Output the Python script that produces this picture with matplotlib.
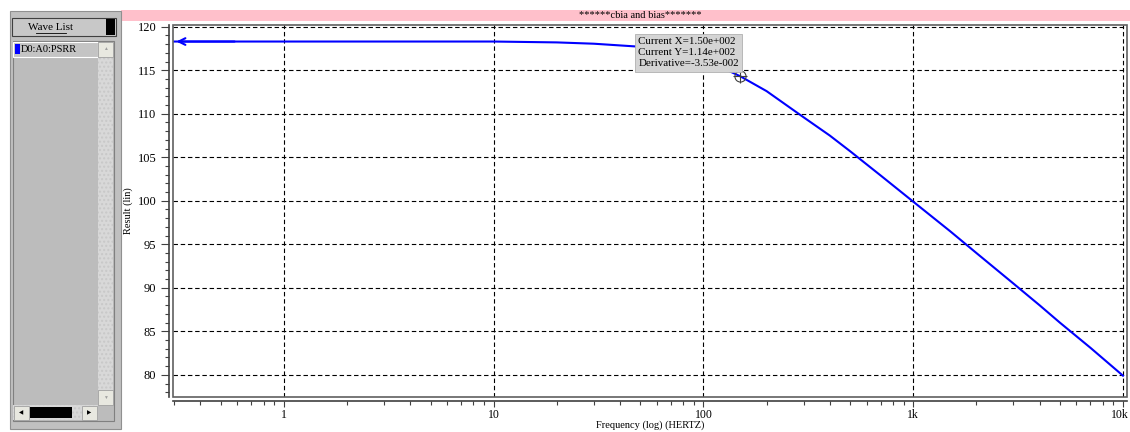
import numpy as np
import matplotlib.pyplot as plt
from matplotlib.patches import Rectangle
from matplotlib.ticker import LogLocator, MultipleLocator, FixedLocator, NullFormatter
import matplotlib.transforms as mtransforms

freq = [0.3, 1, 3, 10, 20, 30, 50, 70, 100, 150, 200, 300, 400, 500, 700, 1000,
        1500, 2000, 3000, 4000, 5000, 7000, 10000]
psrr = [118.3, 118.3, 118.3, 118.3, 118.2, 118.05, 117.7, 117.2, 116.3, 114.3, 112.6,
        109.6, 107.5, 105.7, 102.9, 99.9, 96.5, 94.0, 90.5, 88.0, 86.0, 83.1, 79.9]
xticks = [1, 10, 100, 1000, 10000]
xticklabels = ["1", "10", "100", "1k", "10k"]
yticks = [80, 85, 90, 95, 100, 105, 110, 115, 120]
cursor_x, cursor_y = 150, 114.3
cursor_text = ["Current X=1.50e+002", "Current Y=1.14e+002", "Derivative=-3.53e-002"]
title = "******cbia and bias*******"
wave_name = "D0:A0:PSRR"

W, H = 1130, 432
plt.rcParams['font.family'] = ['Liberation Serif', 'DejaVu Serif']
fig = plt.figure(figsize=(W / 100, H / 100), dpi=100)
fig.patch.set_facecolor("white")


def px(x, y, w, h):
    # pixel box (top-left origin) -> figure fraction
    return (x / W, 1 - (y + h) / H), w / W, h / H


def box(x, y, w, h, fc, ec="none", lw=0.0, hatch=None, z=1):
    xy, ww, hh = px(x, y, w, h)
    r = Rectangle(xy, ww, hh, transform=fig.transFigure, facecolor=fc, edgecolor=ec,
                  linewidth=lw, hatch=hatch, zorder=z)
    fig.add_artist(r)
    return r


def ftext(x, y, s, **kw):
    fig.text(x / W, 1 - y / H, s, **kw)


# title bar
box(121, 10, 1009, 11, "#ffc0cb")
ftext(640, 15.5, title, ha="center", va="center", fontsize=7.5)

# left wave list panel
box(10, 11, 111, 418, "#c0c0c0", ec="#909090", lw=0.8)
box(12, 18, 104, 18, "#c8c8c8", ec="#404040", lw=0.8, z=2)
box(106, 19, 9, 16, "black", z=3)
ftext(50, 27, "Wave List", ha="center", va="center", fontsize=8)
fig.add_artist(plt.Line2D([36 / W, 66 / W], [1 - 32.5 / H, 1 - 32.5 / H],
                          transform=fig.transFigure, color="black", lw=0.6))
box(13, 41, 101, 380, "#bcbcbc", ec="#808080", lw=0.8, z=2)
box(13, 42, 85, 15, "#c4c4c4", ec="white", lw=0.8, z=3)
box(15, 44, 5, 10, "#0000ff", z=4)
ftext(21, 49.5, wave_name, ha="left", va="center", fontsize=7.5, zorder=5)
# vertical scrollbar
box(98, 42, 15, 363, "#d8d8d8", hatch="....", ec="#c8c8c8", lw=0.0, z=3)
box(98, 42, 15, 15, "#e8e8e0", ec="#a0a0a0", lw=0.6, z=4)
ftext(105.5, 49, "\u25B2", ha="center", va="center", fontsize=3.5, color="#a0a0a0", zorder=5)
box(98, 390, 15, 15, "#e8e8e0", ec="#a0a0a0", lw=0.6, z=4)
ftext(105.5, 397.5, "\u25BC", ha="center", va="center", fontsize=3.5, color="#a0a0a0", zorder=5)
# horizontal scrollbar
box(13, 405, 85, 15, "#d8d8d8", hatch="....", ec="#c8c8c8", lw=0.0, z=3)
box(14, 406, 15, 14, "#e8e8e0", ec="#a0a0a0", lw=0.6, z=4)
ftext(21.5, 413, "\u25C0", ha="center", va="center", fontsize=4, color="black", zorder=5)
box(30, 407, 42, 11, "black", z=4)
box(82, 406, 15, 14, "#e8e8e0", ec="#a0a0a0", lw=0.6, z=4)
ftext(89.5, 413, "\u25B6", ha="center", va="center", fontsize=4, color="black", zorder=5)

# plot area
ax = fig.add_axes([173 / W, (H - 397) / H, (1127 - 173) / W, (397 - 25) / H])
ax.set_zorder(10)
ax.set_xscale("log")
ax.set_xlim(0.296, 10450)
ax.set_ylim(77.45, 120.2)

ax.plot(freq, psrr, color="#0000ff", lw=1.5, zorder=3)
ax.annotate("", xy=(0.298, psrr[0]), xytext=(0.6, psrr[0]),
            arrowprops=dict(arrowstyle="->", color="#0000ff", lw=1.5,
                            mutation_scale=12), zorder=4)

ax.xaxis.set_major_locator(FixedLocator(xticks))
ax.set_xticklabels(xticklabels)
ax.xaxis.set_minor_locator(LogLocator(base=10, subs=np.arange(2, 10)))
ax.xaxis.set_minor_formatter(NullFormatter())
ax.yaxis.set_major_locator(FixedLocator(yticks))
ax.yaxis.set_minor_locator(MultipleLocator(1))

ax.grid(True, which="major", color="black", linestyle=(0, (4, 2.5)), lw=0.8)
for s in ["left", "bottom"]:
    ax.spines[s].set_position(("outward", 3))
    ax.spines[s].set_color("#404040")
    ax.spines[s].set_linewidth(1.2)
for s in ["top", "right"]:
    ax.spines[s].set_visible(False)
ax.add_patch(Rectangle((0, 0), 1, 1, transform=ax.transAxes, fill=False,
                       edgecolor="#606060", lw=1.2, zorder=5, clip_on=False))

ax.tick_params(axis="both", which="major", labelsize=9, length=5, width=0.8, color="#404040")
ax.tick_params(axis="both", which="minor", length=3, width=0.8, color="#404040")
ax.tick_params(axis="x", which="major", labelsize=8.5, length=4, pad=1.5)
ax.tick_params(axis="y", which="major", length=6, pad=3)
# keep "10k" inside the canvas
last = ax.get_xticklabels()[-1]
last.set_transform(last.get_transform() + mtransforms.ScaledTranslation(-3 / 100, 0, fig.dpi_scale_trans))

ax.set_xlabel("Frequency (log) (HERTZ)", fontsize=7.5, labelpad=0)
ax.set_ylabel("Result (lin)", fontsize=7.5)
ax.yaxis.set_label_coords((133 - 173) / 954, 0.5)

# cursor readout
ax.plot([cursor_x], [cursor_y], marker="o", ms=8, mfc="none", mec="#404040", mew=0.8, zorder=6)
ax.plot([cursor_x], [cursor_y], marker="+", ms=10, mec="#404040", mew=0.8, zorder=6)
ax.text(49, 118.8, "\n".join(cursor_text), fontsize=7.9, va="top", ha="left",
        linespacing=1.3, zorder=7,
        bbox=dict(boxstyle="square,pad=0.3", facecolor="#d4d4d4", edgecolor="#b0b0b0", lw=0.6))

fig.savefig("out.png", dpi=100, facecolor="white")
